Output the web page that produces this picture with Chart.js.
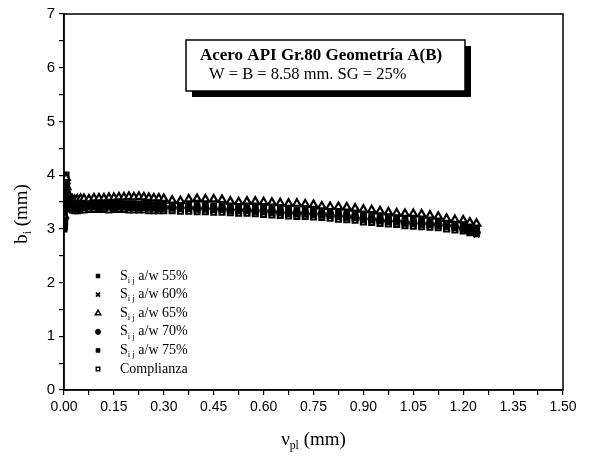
<!DOCTYPE html>
<html>
<head>
<meta charset="utf-8">
<script src="https://cdn.jsdelivr.net/npm/chart.js@4.4.0/dist/chart.umd.min.js"></script>
<style>
  html, body { margin: 0; padding: 0; background: #fff; }
  .wrap { width: 589px; height: 456px; position: relative; }
</style>
</head>
<body>
<div class="wrap"><canvas id="myChart"></canvas></div>
<script>
// desplazamiento plastico (mm), comun a todas las series
const vpl = [
  0.000, 0.002, 0.004, 0.006, 0.008, 0.010, 0.013, 0.016, 0.020, 0.025,
  0.032, 0.040, 0.050, 0.060, 0.075, 0.090, 0.105, 0.120, 0.135, 0.150,
  0.165, 0.180, 0.195, 0.210, 0.225, 0.240, 0.255, 0.270, 0.285, 0.300,
  0.325, 0.350, 0.375, 0.400, 0.425, 0.450, 0.475, 0.500, 0.525, 0.550,
  0.575, 0.600, 0.625, 0.650, 0.675, 0.700, 0.725, 0.750, 0.775, 0.800,
  0.825, 0.850, 0.875, 0.900, 0.925, 0.950, 0.975, 1.000, 1.025, 1.050,
  1.075, 1.100, 1.125, 1.150, 1.175, 1.200, 1.220, 1.240,
];

const s55 = [
  3.05, 3.30, 3.62, 3.85, 3.75, 3.62, 3.55, 3.50, 3.46, 3.43,
  3.43, 3.43, 3.44, 3.44, 3.45, 3.45, 3.44, 3.45, 3.45, 3.45,
  3.45, 3.44, 3.44, 3.44, 3.44, 3.43, 3.43, 3.43, 3.42, 3.43,
  3.43, 3.42, 3.42, 3.41, 3.41, 3.40, 3.40, 3.39, 3.38, 3.38,
  3.37, 3.36, 3.35, 3.34, 3.33, 3.32, 3.32, 3.31, 3.30, 3.29,
  3.27, 3.26, 3.25, 3.22, 3.21, 3.19, 3.18, 3.17, 3.15, 3.14,
  3.13, 3.12, 3.11, 3.09, 3.07, 3.04, 3.00, 2.96,
];
const s60 = [
  3.15, 3.45, 3.75, 3.70, 3.60, 3.52, 3.48, 3.44, 3.41, 3.39,
  3.37, 3.37, 3.38, 3.38, 3.39, 3.39, 3.39, 3.38, 3.39, 3.39,
  3.39, 3.39, 3.38, 3.38, 3.38, 3.38, 3.37, 3.37, 3.37, 3.36,
  3.37, 3.36, 3.36, 3.35, 3.35, 3.34, 3.34, 3.33, 3.32, 3.32,
  3.31, 3.30, 3.29, 3.28, 3.27, 3.26, 3.26, 3.25, 3.24, 3.23,
  3.21, 3.20, 3.19, 3.16, 3.15, 3.13, 3.12, 3.11, 3.09, 3.08,
  3.07, 3.06, 3.05, 3.03, 3.01, 2.98, 2.94, 2.90,
];
const s65 = [
  3.25, 3.55, 3.90, 3.95, 3.78, 3.68, 3.62, 3.58, 3.56, 3.55,
  3.54, 3.55, 3.56, 3.56, 3.55, 3.57, 3.57, 3.57, 3.58, 3.58,
  3.59, 3.59, 3.60, 3.59, 3.60, 3.59, 3.58, 3.57, 3.57, 3.56,
  3.53, 3.52, 3.55, 3.56, 3.55, 3.55, 3.54, 3.51, 3.50, 3.51,
  3.51, 3.50, 3.49, 3.48, 3.47, 3.47, 3.46, 3.45, 3.42, 3.41,
  3.41, 3.40, 3.38, 3.36, 3.35, 3.33, 3.31, 3.29, 3.28, 3.28,
  3.27, 3.25, 3.23, 3.19, 3.17, 3.16, 3.12, 3.10,
];
const s70 = [
  3.02, 3.20, 3.50, 3.65, 3.58, 3.50, 3.46, 3.43, 3.41, 3.40,
  3.40, 3.39, 3.41, 3.41, 3.42, 3.42, 3.41, 3.42, 3.42, 3.41,
  3.42, 3.42, 3.41, 3.41, 3.40, 3.41, 3.40, 3.40, 3.39, 3.40,
  3.40, 3.39, 3.39, 3.38, 3.38, 3.37, 3.37, 3.36, 3.35, 3.35,
  3.34, 3.33, 3.32, 3.31, 3.30, 3.29, 3.29, 3.28, 3.27, 3.26,
  3.24, 3.23, 3.22, 3.19, 3.18, 3.16, 3.15, 3.14, 3.12, 3.11,
  3.10, 3.09, 3.08, 3.06, 3.04, 3.01, 2.97, 2.93,
];
const s75 = [
  3.10, 3.38, 3.68, 3.92, 3.72, 3.60, 3.54, 3.50, 3.48, 3.46,
  3.46, 3.45, 3.47, 3.47, 3.48, 3.47, 3.48, 3.48, 3.47, 3.48,
  3.48, 3.47, 3.47, 3.47, 3.46, 3.47, 3.46, 3.45, 3.46, 3.46,
  3.45, 3.45, 3.45, 3.44, 3.44, 3.43, 3.43, 3.42, 3.41, 3.41,
  3.40, 3.39, 3.38, 3.37, 3.36, 3.35, 3.35, 3.34, 3.33, 3.32,
  3.30, 3.29, 3.28, 3.25, 3.24, 3.22, 3.21, 3.20, 3.18, 3.17,
  3.16, 3.15, 3.14, 3.12, 3.10, 3.07, 3.03, 2.99,
];
const complianza = [
  3.00, 3.12, 3.40, 4.00, 3.85, 3.65, 3.50, 3.42, 3.37, 3.35,
  3.34, 3.34, 3.35, 3.35, 3.36, 3.36, 3.36, 3.36, 3.35, 3.36,
  3.36, 3.36, 3.35, 3.35, 3.35, 3.35, 3.34, 3.34, 3.34, 3.34,
  3.34, 3.33, 3.33, 3.32, 3.32, 3.31, 3.31, 3.30, 3.29, 3.29,
  3.28, 3.27, 3.26, 3.25, 3.24, 3.23, 3.23, 3.22, 3.21, 3.20,
  3.18, 3.17, 3.16, 3.13, 3.12, 3.10, 3.09, 3.08, 3.06, 3.05,
  3.04, 3.03, 3.02, 3.00, 2.98, 2.96, 2.93, 2.91,
];

const seriesLabels = ["a/w 55%", "a/w 60%", "a/w 65%", "a/w 70%", "a/w 75%", "Complianza"];
const xTicks = ["0.00", "0.15", "0.30", "0.45", "0.60", "0.75", "0.90", "1.05", "1.20", "1.35", "1.50"];
const yTicks = ["0", "1", "2", "3", "4", "5", "6", "7"];

const SERIF = "'Liberation Serif', 'Times New Roman', serif";
const SANS = "'Liberation Sans', Arial, sans-serif";

const toPoints = (ys) => ys.map((v, i) => ({ x: vpl[i], y: v }));

const styles = [
  { pointStyle: "rect", pointRadius: 3.8, pointBackgroundColor: "#000", pointBorderWidth: 1 },
  { pointStyle: "crossRot", pointRadius: 4, pointBackgroundColor: "#000", pointBorderWidth: 2.6 },
  { pointStyle: "triangle", pointRadius: 4.3, pointBackgroundColor: "#fff", pointBorderWidth: 2.2 },
  { pointStyle: "circle", pointRadius: 3.8, pointBackgroundColor: "#000", pointBorderWidth: 1 },
  { pointStyle: "rect", pointRadius: 4, pointBackgroundColor: "#000", pointBorderWidth: 1 },
  { pointStyle: "rect", pointRadius: 3.6, pointBackgroundColor: "#fff", pointBorderWidth: 2 },
];

const allSeries = [s55, s60, s65, s70, s75, complianza];

const data = {
  datasets: allSeries.map((ys, i) => ({
    label: seriesLabels[i],
    data: toPoints(ys),
    showLine: false,
    pointBorderColor: "#000",
    ...styles[i],
  })),
};

// texto con subindices: partes [texto, esSub]
function drawRich(ctx, parts, x, y, size) {
  let cx = x;
  parts.forEach(([t, sub]) => {
    ctx.font = (sub ? size * 0.62 : size) + "px " + SERIF;
    ctx.fillText(t, cx, sub ? y + size * 0.32 : y);
    cx += ctx.measureText(t).width;
  });
  return cx - x;
}

function richWidth(ctx, parts, size) {
  let w = 0;
  parts.forEach(([t, sub]) => {
    ctx.font = (sub ? size * 0.62 : size) + "px " + SERIF;
    w += ctx.measureText(t).width;
  });
  return w;
}

const decor = {
  id: "decor",
  afterDraw(chart) {
    const { ctx, chartArea: a } = chart;
    ctx.save();

    // marco
    ctx.strokeStyle = "#000";
    ctx.lineWidth = 1.5;
    ctx.strokeRect(a.left, a.top, a.right - a.left, a.bottom - a.top);

    // recuadro del titulo con sombra
    const bx = a.left + 122, by = a.top + 26, bw = 279, bh = 51;
    ctx.fillStyle = "#000";
    ctx.fillRect(bx + 6, by + 6, bw, bh);
    ctx.fillStyle = "#fff";
    ctx.fillRect(bx, by, bw, bh);
    ctx.lineWidth = 1.5;
    ctx.strokeRect(bx, by, bw, bh);
    ctx.fillStyle = "#000";
    ctx.textBaseline = "middle";
    ctx.textAlign = "left";
    ctx.font = "bold 17px " + SERIF;
    ctx.fillText("Acero API Gr.80 Geometría A(B)", bx + 14, by + 16);
    ctx.font = "16.5px " + SERIF;
    ctx.fillText("W = B = 8.58 mm. SG = 25%", bx + 23, by + 35);

    // leyenda
    const lx = a.left + 34, ly = a.top + 262, dy = 18.6;
    chart.data.datasets.forEach((ds, i) => {
      const yy = ly + i * dy;
      ctx.fillStyle = ds.pointBackgroundColor;
      ctx.strokeStyle = "#000";
      ctx.lineWidth = ds.pointBorderWidth * 0.7;
      Chart.helpers.drawPoint(ctx, {
        pointStyle: ds.pointStyle,
        radius: ds.pointRadius * 0.7,
        rotation: 0,
        borderWidth: ds.pointBorderWidth * 0.7,
      }, lx, yy);
      ctx.fillStyle = "#000";
      if (i < 5) {
        drawRich(ctx, [["S", false], ["i j", true], [" " + seriesLabels[i], false]], lx + 22, yy, 14);
      } else {
        ctx.font = "14px " + SERIF;
        ctx.fillText(seriesLabels[i], lx + 22, yy);
      }
    });

    // titulo eje x
    const xParts = [["ν", false], ["pl", true], [" (mm)", false]];
    const xw = richWidth(ctx, xParts, 19);
    drawRich(ctx, xParts, (a.left + a.right) / 2 - xw / 2, a.bottom + 50, 19);

    // titulo eje y
    const yParts = [["b", false], ["i", true], [" (mm)", false]];
    const yw = richWidth(ctx, yParts, 19);
    ctx.translate(22, (a.top + a.bottom) / 2 + 12);
    ctx.rotate(-Math.PI / 2);
    drawRich(ctx, yParts, -yw / 2, 0, 19);

    ctx.restore();
  },
};

new Chart(document.getElementById("myChart"), {
  type: "scatter",
  data: data,
  options: {
    responsive: true,
    maintainAspectRatio: false,
    animation: false,
    layout: { padding: { left: 0, right: 26, top: 14, bottom: 0 } },
    scales: {
      x: {
        type: "linear",
        min: 0,
        max: 1.5,
        afterFit: (scale) => { scale.height = 66; },
        border: { display: true, color: "#000", width: 1.5 },
        grid: { drawOnChartArea: false, drawTicks: true, tickLength: 5, color: "#000", lineWidth: 1.2 },
        ticks: {
          stepSize: 0.075,
          autoSkip: false,
          maxRotation: 0,
          padding: 4,
          color: "#000",
          font: { family: SANS, size: 14 },
          callback: (v) => {
            const lbl = Number(v).toFixed(2);
            return xTicks.includes(lbl) ? lbl : "";
          },
        },
      },
      y: {
        min: 0,
        max: 7,
        afterFit: (scale) => { scale.width = 64; },
        border: { display: true, color: "#000", width: 1.5 },
        grid: { drawOnChartArea: false, drawTicks: true, tickLength: 5, color: "#000", lineWidth: 1.2 },
        ticks: {
          stepSize: 0.5,
          autoSkip: false,
          padding: 4,
          color: "#000",
          font: { family: SANS, size: 15 },
          callback: (v) => (Number.isInteger(v) ? yTicks[v] : ""),
        },
      },
    },
    plugins: {
      legend: { display: false },
      tooltip: { enabled: false },
    },
  },
  plugins: [decor],
});
</script>
</body>
</html>
